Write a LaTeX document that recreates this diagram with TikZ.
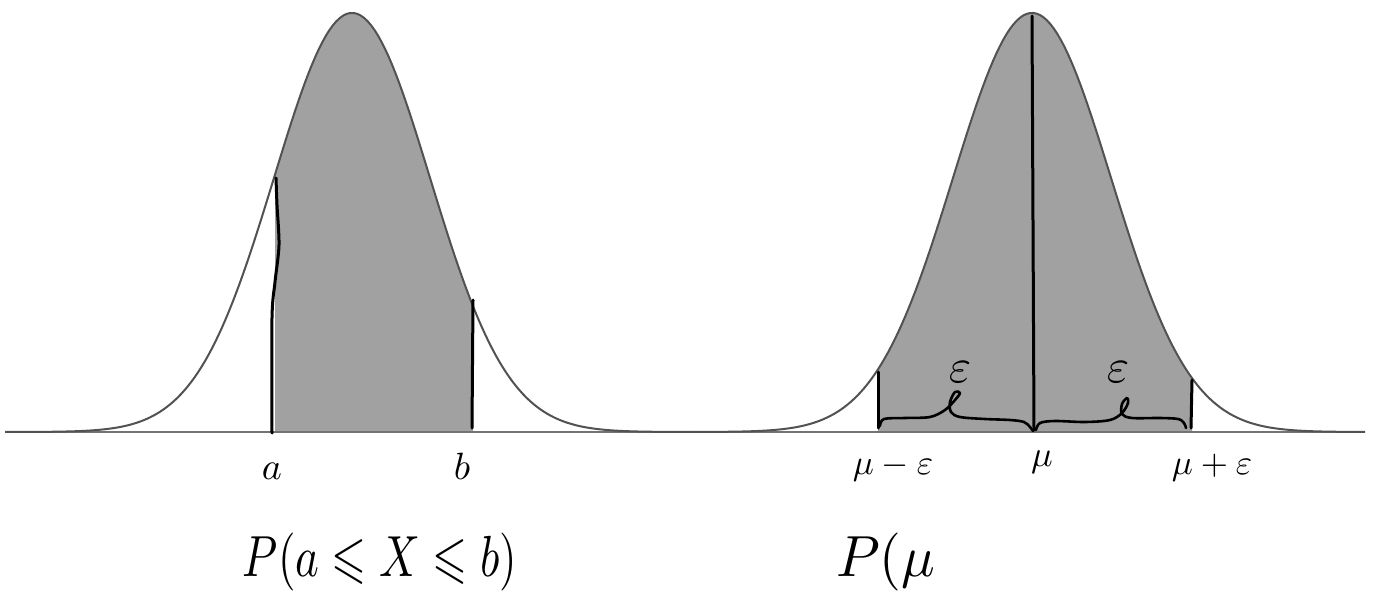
\documentclass[tikz,border=0pt]{standalone}
\usepackage{amssymb}
\usepackage{graphicx}
\newcommand{\bigtxt}[3]{\scalebox{#1}[#2]{#3}}
\begin{document}
\begin{tikzpicture}[x=1pt,y=-1pt,
  curve/.style={draw=black!68, line width=2pt},
  axis/.style={draw=black!55, line width=2pt},
  ink/.style={draw=black, line width=3pt, line cap=round, line join=round},
  shade/.style={fill=black!37},
  lbl/.style={anchor=base, inner sep=0pt},
  big/.style={inner sep=0pt}]
\useasboundingbox (0,0) rectangle (1378,594);
\fill[white] (0,0) rectangle (1378,594);
% shaded areas
\fill[shade] plot[domain=275:473, samples=80] (\x,{432-419*exp(-0.5*((\x-352)/78)^2)}) -- (473,432) -- (275,432) -- cycle;
\fill[shade] plot[domain=878:1192, samples=120] (\x,{432-419*exp(-0.5*((\x-1032)/79)^2)}) -- (1192,432) -- (878,432) -- cycle;
% axis and curves
\draw[axis] (5,432) -- (1365,432);
\draw[curve] plot[domain=5:692, samples=200] (\x,{432-419*exp(-0.5*((\x-352)/78)^2)});
\draw[curve] plot[domain=692:1365, samples=200] (\x,{432-419*exp(-0.5*((\x-1032)/79)^2)});
% handwritten strokes
\draw[ink] plot[smooth] coordinates {(272,433) (272,318) (275,282) (279,245) (277,205) (276,178)};
\draw[ink] (473,300) -- (472,428);
\draw[ink] (1032,16) -- (1034,430);
\draw[ink] (878,372) -- (878,428);
\draw[ink] (1192,380) -- (1191,428);
% braces
\draw[ink, line width=2.6pt] plot[smooth, tension=0.55] coordinates {(880,426) (884,419) (905,418) (930,417) (945,410) (955,400) (960,393) (955,392) (950,402) (951,412) (960,417) (985,419) (1010,420) (1024,422) (1030,427) (1033,431)};
\draw[ink, line width=2.6pt] plot[smooth, tension=0.55] coordinates {(1036,430) (1040,423) (1055,421) (1085,422) (1110,420) (1122,413) (1128,403) (1127,398) (1122,404) (1122,414) (1132,418) (1160,418) (1178,419) (1184,423) (1186,428)};
% labels
\node[lbl] (la) at (272,479) {\bigtxt{3.8}{3.8}{$a$}};
\node[lbl] (lb) at (462,479) {\bigtxt{3.8}{3.8}{$b$}};
\node[lbl] (lme) at (893,474) {\bigtxt{3.5}{3.5}{$\mu-\varepsilon$}};
\node[lbl] (lm) at (1042,466) {\bigtxt{3.6}{3.6}{$\mu$}};
\node[lbl] (lpe) at (1212,474) {\bigtxt{3.5}{3.5}{$\mu+\varepsilon$}};
\node[lbl] (e1) at (960,382) {\bigtxt{4.8}{4.8}{$\varepsilon$}};
\node[lbl] (e2) at (1118,382) {\bigtxt{4.8}{4.8}{$\varepsilon$}};
\node[big, anchor=base] (p1) at (380,576) {\bigtxt{4.5}{5.8}{$P(a\leqslant X\leqslant b)$}};
\node[big, anchor=base west] (p2) at (836,576) {\bigtxt{5.6}{5.8}{$P(\mu$}};
\end{tikzpicture}
\end{document}
